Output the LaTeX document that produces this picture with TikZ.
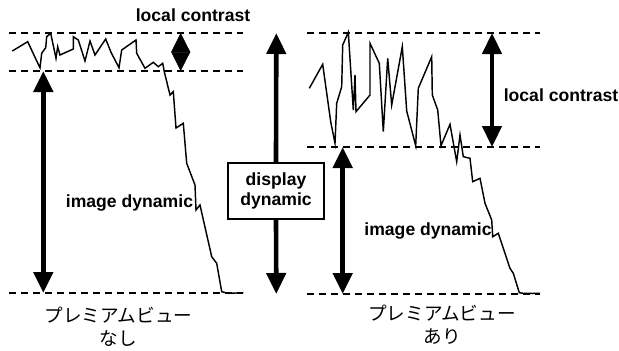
\documentclass[tikz,border=0pt]{standalone}
\usepackage{fontspec}
\setmainfont{Liberation Sans}
\newfontfamily\jpfont{Noto Sans CJK JP}
\usetikzlibrary{arrows.meta}
\begin{document}
\begin{tikzpicture}[x=1pt,y=-1pt,
  dashline/.style={dash pattern=on 7pt off 5pt, line width=1.3pt},
  curve/.style={line width=1.45pt, line join=miter},
  bigarrow/.style={line width=4.6pt, {Triangle[width=19pt,length=21pt]}-{Triangle[width=19pt,length=21pt]}},
  uparrow/.style={line width=4.6pt, -{Triangle[width=19pt,length=21pt]}},
  diamondarrow/.style={line width=0.5pt, {Triangle[width=19pt,length=19pt]}-{Triangle[width=19pt,length=19pt]}},
  lbl/.style={font=\fontsize{17.6}{19}\selectfont\bfseries, inner sep=0pt},
  boxlbl/.style={draw, line width=1.3pt, font=\fontsize{17.6}{20.5}\selectfont\bfseries, align=center, minimum width=96pt, minimum height=56pt, inner sep=0pt},
  jlbl/.style={font=\fontsize{18.6}{23}\selectfont\jpfont, inner sep=0pt, align=center}]
\useasboundingbox (0,0) rectangle (619,351);

% left panel dashed lines
\coordinate (LT1) at (9,33);   \coordinate (LT2) at (243,33);
\coordinate (LM1) at (9,71);   \coordinate (LM2) at (243,71);
\coordinate (LB1) at (9,293);  \coordinate (LB2) at (243,293);
\draw[dashline] (LT1) -- (LT2);
\draw[dashline] (LM1) -- (LM2);
\draw[dashline] (LB1) -- (LB2);

% right panel dashed lines
\coordinate (RT1) at (307,33);  \coordinate (RT2) at (540,33);
\coordinate (RM1) at (307,147); \coordinate (RM2) at (540,147);
\coordinate (RB1) at (307,294); \coordinate (RB2) at (540,294);
\draw[dashline] (RT1) -- (RT2);
\draw[dashline] (RM1) -- (RM2);
\draw[dashline] (RB1) -- (RB2);

% left curve
\draw[curve] (12.3,51) -- (27.7,41.7) -- (38.3,64.3) -- (40,67.7) -- (41.7,53.3) -- (45.7,47.7)
  -- (46.7,36.7) -- (50.7,33.3) -- (56,58.3) -- (57.7,46.7) -- (60,55) -- (73.3,49) -- (73.3,36.7)
  -- (78.3,40) -- (85,61) -- (90,41) -- (95,55) -- (105.7,39) -- (111,52.3) -- (119,67.7)
  -- (121.7,50) -- (136,40) -- (136.7,53.3) -- (145,68.3) -- (153.3,62.3) -- (158.3,66.7)
  -- (162.7,63.3) -- (164.3,71.7) -- (170,95) -- (173.3,91.7) -- (176,128) -- (183.3,123.3)
  -- (186.7,163.3) -- (195,185) -- (196,210) -- (200,205) -- (211.7,256.7) -- (216.7,263.3)
  -- (221.7,291.7) -- (228.3,293.3) -- (243.3,292.7);

% right curve
\draw[curve] (309.3,88.3) -- (322.7,64.3) -- (330.7,121.7) -- (335,143.3) -- (336.7,103.3)
  -- (341.7,86.7) -- (342.7,45) -- (348.3,32.3) -- (353.3,110) -- (355,75) -- (356,111.7)
  -- (370,95) -- (370,43.3) -- (379.3,63.3) -- (383.3,131.7) -- (387.7,58.3) -- (391.7,105)
  -- (402.3,46.7) -- (406.7,111) -- (415.7,145.7) -- (418.3,88.3) -- (431.7,56.7) -- (432.3,95)
  -- (437.7,110) -- (441,145.7) -- (450,124.3) -- (456.7,161.7) -- (460,135) -- (463.3,156.7)
  -- (470,158.3) -- (472.7,181.7) -- (480,178.3) -- (485,203.3) -- (491.7,220) -- (492.7,236.7)
  -- (498.3,233.3) -- (510,268.3) -- (513.3,273.3) -- (519.3,292.7) -- (523.3,293.3) -- (540,293.3);

% arrows left panel
\coordinate (LA1) at (43.3,71);  \coordinate (LA2) at (43.3,293);
\draw[bigarrow] (LA1) -- (LA2);
\coordinate (LD1) at (180.7,33); \coordinate (LD2) at (180.7,71);
\draw[diamondarrow] (LD1) -- (LD2);

% display dynamic
\node[boxlbl] (disp) at (276,191) {display\\dynamic};
\coordinate (DT) at (276.3,33); \coordinate (DB) at (276.3,294);
\draw[uparrow] (disp.north) -- (DT);
\draw[uparrow] (disp.south) -- (DB);

% arrows right panel
\coordinate (RA1) at (342.7,147); \coordinate (RA2) at (342.7,294);
\draw[bigarrow] (RA1) -- (RA2);
\coordinate (RC1) at (492,33); \coordinate (RC2) at (492,147);
\draw[bigarrow] (RC1) -- (RC2);

% labels
\node[lbl] (lc1) at (193,15) {local contrast};
\node[lbl] (lc2) at (561,95) {local contrast};
\node[lbl] (id1) at (129.5,203) {image dynamic};
\node[lbl] (id2) at (428,231) {image dynamic};
\node[jlbl] (j1) at (118.5,326.5) {プレミアムビュー\\なし};
\node[jlbl] (j2) at (442,325) {プレミアムビュー\\あり};
\end{tikzpicture}
\end{document}
